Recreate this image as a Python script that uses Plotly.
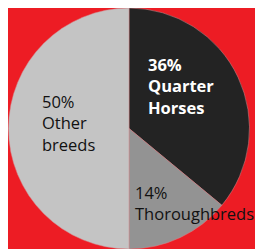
import plotly.graph_objects as go

labels = ["Quarter Horses", "Thoroughbreds", "Other breeds"]
values = [36, 14, 50]
colors = ["#232323", "#939393", "#c4c4c4"]
text_colors = ["#ffffff", "#111111", "#111111"]
bold = [True, False, False]
label_lines = [["Quarter", "Horses"], ["Thoroughbreds"], ["Other", "breeds"]]

W, H = 263, 249
OFF = 8  # page offset of the plot div

# label anchor positions in target pixels (left, vertical middle)
label_px = [(147, 86), (134, 203), (41, 123)]

fig = go.Figure(go.Pie(
    labels=labels,
    values=values,
    marker=dict(colors=colors, line=dict(width=0.5, color="#d48a8e")),
    sort=False,
    direction="clockwise",
    rotation=0,
    textinfo="none",
    hoverinfo="none",
    showlegend=False,
    domain=dict(x=[0, 242 / W], y=[1 - 241 / H, 1]),
))

for i, lab in enumerate(labels):
    txt = "<br>".join([f"{values[i]}%"] + label_lines[i])
    if bold[i]:
        txt = "<b>" + txt + "</b>"
    px, py = label_px[i]
    fig.add_annotation(
        x=(px - OFF) / W, y=1 - (py - OFF) / H, xref="paper", yref="paper",
        text=txt, showarrow=False, xanchor="left", yanchor="middle",
        align="left", borderpad=0,
        font=dict(family="Open Sans", size=16.5, color=text_colors[i]),
    )

fig.update_layout(
    width=W, height=H,
    margin=dict(l=0, r=0, t=0, b=0),
    paper_bgcolor="#ed1c24",
    plot_bgcolor="#ed1c24",
)

fig.write_html("out.html")
